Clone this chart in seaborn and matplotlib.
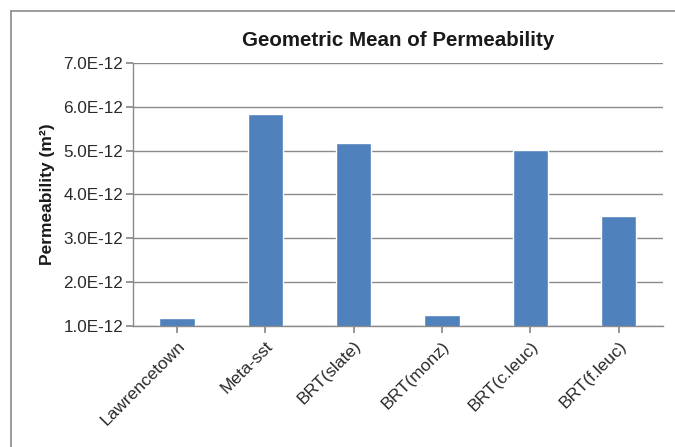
import matplotlib
matplotlib.use("Agg")
import matplotlib.pyplot as plt
import seaborn as sns
import pandas as pd
from matplotlib.lines import Line2D

# dane
categories = ["Lawrencetown", "Meta-sst", "BRT(slate)", "BRT(monz)", "BRT(c.leuc)", "BRT(f.leuc)"]
permeability = [1.18e-12, 5.83e-12, 5.18e-12, 1.25e-12, 5.02e-12, 3.51e-12]
yticks = [1e-12, 2e-12, 3e-12, 4e-12, 5e-12, 6e-12, 7e-12]
ytick_labels = ["1.0E-12", "2.0E-12", "3.0E-12", "4.0E-12", "5.0E-12", "6.0E-12", "7.0E-12"]

df = pd.DataFrame({"Category": categories, "Permeability": permeability})

sns.set_theme(style="white")
plt.rcParams["font.family"] = ["Liberation Sans", "DejaVu Sans"]

fig = plt.figure(figsize=(6.75, 4.47), dpi=100)
ax = fig.add_axes([0.197, 0.271, 0.785, 0.588])

sns.barplot(data=df, x="Category", y="Permeability", color="#4F81BD",
            saturation=1, width=0.4, ax=ax)

ax.set_ylim(1e-12, 7e-12)
ax.set_xlim(-0.5, len(categories) - 0.5)
ax.set_yticks(yticks)
ax.set_yticklabels(ytick_labels, fontsize=12.3, color="#2a2a2a")
ax.yaxis.grid(True, color="#8a8a8a", linewidth=1)
ax.set_axisbelow(True)

for s in ["top", "right"]:
    ax.spines[s].set_visible(False)
for s in ["left", "bottom"]:
    ax.spines[s].set_color("#8a8a8a")
    ax.spines[s].set_linewidth(1)

ax.tick_params(axis="y", which="both", left=True, length=5, color="#8a8a8a", pad=2)
ax.tick_params(axis="x", which="both", bottom=True, length=5, color="#8a8a8a", pad=4)
plt.setp(ax.get_xticklabels(), rotation=45, ha="right", rotation_mode="anchor",
         fontsize=12.5, color="#2a2a2a")

ax.set_xlabel("")
ax.set_ylabel("Permeability (m²)", fontsize=12.5, fontweight="bold", labelpad=6,
              color="#1a1a1a")
ax.set_title("Geometric Mean of Permeability", fontsize=14.8, fontweight="bold", pad=12,
             color="#1a1a1a")

# ramka obszaru wykresu
fig.add_artist(Line2D([11 / 675, 11 / 675], [0, 1 - 11 / 447], transform=fig.transFigure,
                      color="#8c8c8c", linewidth=1.2))
fig.add_artist(Line2D([11 / 675, 1], [1 - 11 / 447, 1 - 11 / 447], transform=fig.transFigure,
                      color="#8c8c8c", linewidth=1.2))

fig.savefig("out.png", dpi=100)
